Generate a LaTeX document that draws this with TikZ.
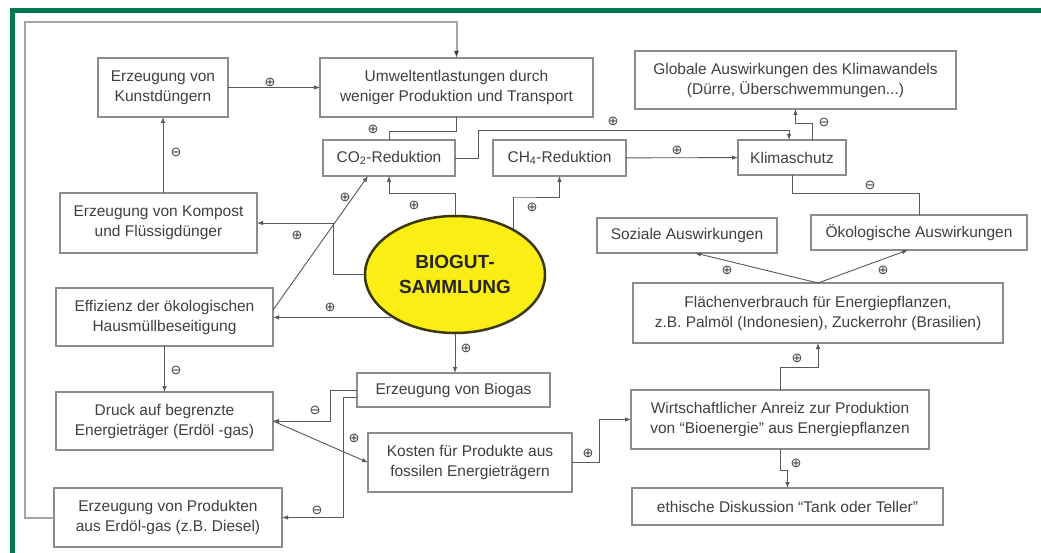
\documentclass[tikz,border=0pt]{standalone}
\usepackage{fontspec}
\setmainfont{Liberation Sans}
\newfontfamily\symfont{DejaVu Sans}
\usetikzlibrary{arrows.meta,shapes.geometric}
\definecolor{rahmen}{RGB}{0,122,76}
\definecolor{gelb}{RGB}{250,238,20}
\definecolor{oliv}{RGB}{60,55,10}

\tikzset{
	kasten/.style={draw=black!45,line width=1.3pt,text=black!75,align=center,inner sep=0,outer sep=0,font=\fontsize{15.5}{20}\selectfont},
	pfeil/.style={draw=black!65,line width=0.9pt,-{Latex[length=6pt,width=4.5pt]}},
	linie/.style={draw=black!65,line width=0.9pt},
	schleife/.style={draw=black!35,line width=2pt,-{Latex[length=7pt,width=5pt,color=black!75]}},
	zeichen/.style={text=black!75,inner sep=0,font=\symfont\fontsize{13}{13}\selectfont},
}

\begin{document}
\begin{tikzpicture}[x=1pt,y=-1pt]
	\useasboundingbox[fill=white] (0,0) rectangle (1041,553);
	\draw[rahmen,line width=5pt] (12.5,553) -- (12.5,10.5) -- (1041,10.5);
	\node[kasten,minimum width=130pt,minimum height=59pt] (1) at (163,87.5) {Erzeugung von\\Kunstdüngern};
	\node[kasten,minimum width=273pt,minimum height=59pt] (2) at (456.5,87.5) {Umweltentlastungen durch\\weniger Produktion und Transport};
	\node[kasten,minimum width=321pt,minimum height=58pt] (3) at (795.5,80) {Globale Auswirkungen des Klimawandels\\(Dürre, Überschwemmungen...)};
	\node[kasten,minimum width=132pt,minimum height=36pt] (4) at (389,158) {CO\textsubscript{2}-Reduktion};
	\node[kasten,minimum width=133pt,minimum height=36pt] (5) at (559.5,158) {CH\textsubscript{4}-Reduktion};
	\node[kasten,minimum width=108pt,minimum height=35pt] (6) at (792,157.5) {Klimaschutz};
	\node[kasten,minimum width=197pt,minimum height=60pt] (7) at (158.5,223) {Erzeugung von Kompost\\und Flüssigdünger};
	\node[ellipse,draw=oliv,fill=gelb,line width=2.5pt,minimum width=180pt,minimum height=117pt,inner sep=0,align=center,text=black!85,font=\bfseries\fontsize{19}{25}\selectfont] (8) at (455,274.5) {BIOGUT-\\SAMMLUNG};
	\node[kasten,minimum width=180pt,minimum height=35pt] (9) at (687,235.5) {Soziale Auswirkungen};
	\node[kasten,minimum width=216pt,minimum height=35pt] (10) at (919,232.5) {Ökologische Auswirkungen};
	\node[kasten,minimum width=217pt,minimum height=58pt] (11) at (164.5,317) {Effizienz der ökologischen\\Hausmüllbeseitigung};
	\node[kasten,minimum width=370pt,minimum height=60pt] (12) at (818,313) {Flächenverbrauch für Energiepflanzen,\\z.B. Palmöl (Indonesien), Zuckerrohr (Brasilien)};
	\node[kasten,minimum width=193pt,minimum height=34pt] (13) at (453.5,390) {Erzeugung von Biogas};
	\node[kasten,minimum width=217pt,minimum height=58pt] (14) at (164.5,421) {Druck auf begrenzte\\Energieträger (Erdöl -gas)};
	\node[kasten,minimum width=204pt,minimum height=59pt] (15) at (470,462.5) {Kosten für Produkte aus\\fossilen Energieträgern};
	\node[kasten,minimum width=298pt,minimum height=59pt] (16) at (780,419.5) {Wirtschaftlicher Anreiz zur Produktion\\von “Bioenergie” aus Energiepflanzen};
	\node[kasten,minimum width=228pt,minimum height=59pt] (17) at (168,517.5) {Erzeugung von Produkten\\aus Erdöl-gas (z.B. Diesel)};
	\node[kasten,minimum width=311pt,minimum height=37pt] (18) at (787.5,506.5) {ethische Diskussion “Tank oder Teller”};
	\coordinate (c1) at (25,22);
	\coordinate (c2) at (478,130);
	\coordinate (c4) at (513,197);
	\draw[schleife] (17.west) -| (c1) -| (2.north);
	\draw[pfeil] (1) -- (2);
	\draw[pfeil] (7.north -| 1.south) -- (1.south);
	\draw[linie] (2.south) -- ++(0,14) -| (4.north);
	\draw[pfeil] (4.east) -| (c2) -| ([xshift=-3pt]6.north);
	\draw[pfeil] ([xshift=20pt]6.north) -- ++(0,-17) -| (3.south);
	\draw[pfeil] (5) -- (6);
	\draw[linie] (6.south) -- ++(0,18) -| (10.north);
	\draw[pfeil] (8.north) -- ++(0,-21) -| (4.south);
	\draw[pfeil] (8.38) |- (c4) -| (5.south);
	\draw[pfeil] (8.west) -- ++(-30,0) |- (7.east);
	\draw[pfeil] ([yshift=7pt]11.east) -- ([xshift=-21pt]4.south);
	\draw[pfeil] (8.214) -- (8.214 -| 11.east);
	\draw[pfeil] (8.south) -- (8.south |- 13.north);
	\draw[pfeil] (11) -- (14);
	\draw[pfeil] (13.west) -- ++(-27,0) |- (14.east);
	\draw[pfeil] ([yshift=-7pt]13.west) -- ++(-14,0) |- (17.east);
	\draw[pfeil] (14.east) -- (15.west);
	\draw[pfeil] (15.east) -- ++(27,0) |- (16.west);
	\draw[pfeil] (16.north) -- ++(0,-23) -| (12.south);
	\draw[pfeil] (16.south) -- ++(0,21) -| (18.north);
	\draw[pfeil] (12.north) -- ([xshift=8pt]9.south);
	\draw[pfeil] (12.north) -- ([xshift=-11pt]10.south);
	\node[zeichen] (s1) at (270,82) {⊕};
	\node[zeichen] (s2) at (176,152) {⊖};
	\node[zeichen] (s3) at (373,129) {⊕};
	\node[zeichen] (s4) at (613,121) {⊕};
	\node[zeichen] (s5) at (824,122) {⊖};
	\node[zeichen] (s6) at (677,150) {⊕};
	\node[zeichen] (s7) at (870,185) {⊖};
	\node[zeichen] (s8) at (414,205) {⊕};
	\node[zeichen] (s9) at (532,207) {⊕};
	\node[zeichen] (s10) at (297,235) {⊕};
	\node[zeichen] (s11) at (345,197) {⊕};
	\node[zeichen] (s12) at (330,307) {⊕};
	\node[zeichen] (s13) at (466,348) {⊕};
	\node[zeichen] (s14) at (176,370) {⊖};
	\node[zeichen] (s15) at (315,410) {⊖};
	\node[zeichen] (s16) at (317,510) {⊖};
	\node[zeichen] (s17) at (354,438) {⊕};
	\node[zeichen] (s18) at (588,453) {⊕};
	\node[zeichen] (s19) at (797,358) {⊕};
	\node[zeichen] (s20) at (796,463) {⊕};
	\node[zeichen] (s21) at (727,270) {⊕};
	\node[zeichen] (s22) at (883,270) {⊕};
\end{tikzpicture}
\end{document}
